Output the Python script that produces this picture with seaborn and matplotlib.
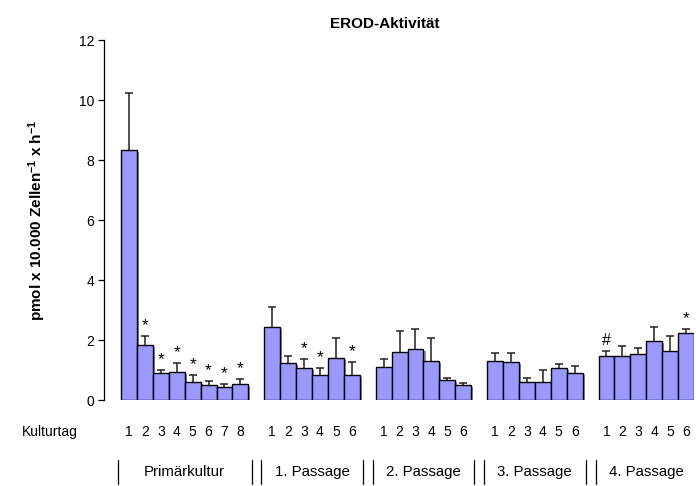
import numpy as np
import pandas as pd
import matplotlib
matplotlib.use("Agg")
import matplotlib.pyplot as plt
import matplotlib.patheffects as pe
import seaborn as sns

# ---- data ----
group_names = ["Primärkultur", "1. Passage", "2. Passage", "3. Passage", "4. Passage"]
prim_mean = [8.33, 1.82, 0.89, 0.92, 0.61, 0.49, 0.44, 0.54]
prim_sd = [1.89, 0.31, 0.10, 0.30, 0.21, 0.13, 0.09, 0.15]
prim_mark = ["", "*", "*", "*", "*", "*", "*", "*"]
p1_mean = [2.43, 1.22, 1.06, 0.82, 1.39, 0.82]
p1_sd = [0.68, 0.26, 0.30, 0.26, 0.68, 0.44]
p1_mark = ["", "", "*", "*", "", "*"]
p2_mean = [1.09, 1.59, 1.69, 1.29, 0.66, 0.49]
p2_sd = [0.27, 0.72, 0.68, 0.78, 0.06, 0.09]
p2_mark = ["", "", "", "", "", ""]
p3_mean = [1.29, 1.26, 0.61, 0.61, 1.06, 0.89]
p3_sd = [0.27, 0.30, 0.11, 0.38, 0.15, 0.23]
p3_mark = ["", "", "", "", "", ""]
p4_mean = [1.46, 1.46, 1.52, 1.97, 1.63, 2.23]
p4_sd = [0.18, 0.34, 0.20, 0.47, 0.50, 0.15]
p4_mark = ["#", "", "", "", "", "*"]

means = [prim_mean, p1_mean, p2_mean, p3_mean, p4_mean]
sds = [prim_sd, p1_sd, p2_sd, p3_sd, p4_sd]
marks = [prim_mark, p1_mark, p2_mark, p3_mark, p4_mark]

rows = []
offset = 0
group_spans = []
for g, (m, s, k) in enumerate(zip(means, sds, marks)):
    start = offset
    for d in range(len(m)):
        rows.append(dict(group=group_names[g], day=d + 1, pos=offset, mean=m[d], sd=s[d], mark=k[d]))
        offset += 1
    group_spans.append((start, offset - 1))
    offset += 1  # gap between groups
df = pd.DataFrame(rows)

# ---- style ----
sns.set_style("ticks")
plt.rcParams["font.family"] = ["Liberation Sans", "DejaVu Sans"]
plt.rcParams["mathtext.fontset"] = "custom"
plt.rcParams["mathtext.rm"] = "Liberation Sans:bold"
plt.rcParams["mathtext.bf"] = "Liberation Sans:bold"
plt.rcParams["mathtext.default"] = "bf"
for key in ["text.color", "axes.labelcolor", "xtick.color", "ytick.color", "axes.edgecolor"]:
    plt.rcParams[key] = "black"

fig = plt.figure(figsize=(6.96, 4.86), dpi=100)
ax = fig.add_axes([104 / 696, 86 / 486, (694 - 104) / 696, 360 / 486])

sns.barplot(data=df, x="pos", y="mean", native_scale=True, width=1,
            color="#9999FF", saturation=1, edgecolor="black", linewidth=1.0,
            errorbar=None, ax=ax, zorder=3)
for p in ax.patches:
    p.set_path_effects([pe.SimplePatchShadow(offset=(1.5, -1.5), shadow_rgbFace="0.45", alpha=0.8),
                        pe.Normal()])

cont = ax.errorbar(df["pos"], df["mean"], yerr=[np.zeros(len(df)), df["sd"]], fmt="none",
                   ecolor="#222222", elinewidth=1.1, capsize=3, capthick=1.1, zorder=2)
caps = cont.lines[1]
if len(caps) == 2:
    caps[0].set_visible(False)

for _, r in df.iterrows():
    if r["mark"]:
        ax.annotate(r["mark"], xy=(r["pos"], r["mean"] + r["sd"]), xytext=(0, 2),
                    textcoords="offset points", ha="center", va="bottom",
                    fontsize=12.5 if r["mark"] == "*" else 11.5, color="black")

ax.set_xlim(-1.57, 35.5)
ax.set_ylim(0, 12)
ax.set_yticks(np.arange(0, 13, 2))
ax.tick_params(axis="y", direction="out", length=4, width=0.9, labelsize=10, pad=3, color="black")
ax.set_xticks(df["pos"])
ax.set_xticklabels(df["day"].astype(str))
ax.tick_params(axis="x", length=0, labelsize=10, pad=18)
ax.set_xlabel("")
ax.set_ylabel(r"pmol x 10.000 Zellen$^{-1}$ x h$^{-1}$", fontsize=11, fontweight="bold", labelpad=22)
for sp in ["top", "right", "bottom"]:
    ax.spines[sp].set_visible(False)
ax.spines["left"].set_linewidth(0.9)
ax.spines["left"].set_color("black")

ax.set_title("EROD-Aktivität", fontsize=11, fontweight="bold", pad=9, x=0.476)

fig.text(22 / 696, 1 - 432 / 486, "Kulturtag", fontsize=10, ha="left", va="center")

# group labels and separators
trans = matplotlib.transforms.blended_transform_factory(ax.transData, fig.transFigure)
y_lab = 1 - 472 / 486
for (a, b), name in zip(group_spans, group_names):
    ax.text((a + b) / 2, y_lab, name, transform=trans, ha="center", va="center", fontsize=10.8)
sep_x = [-0.69]
for (a, b) in group_spans[:-1]:
    gap = b + 1
    sep_x += [gap - 0.3, gap + 0.32]
for x in sep_x:
    ax.plot([x, x], [1 - 460 / 486, 1 - 484 / 486], transform=trans, color="black",
            lw=0.9, clip_on=False)

fig.savefig("out.png", dpi=100)
